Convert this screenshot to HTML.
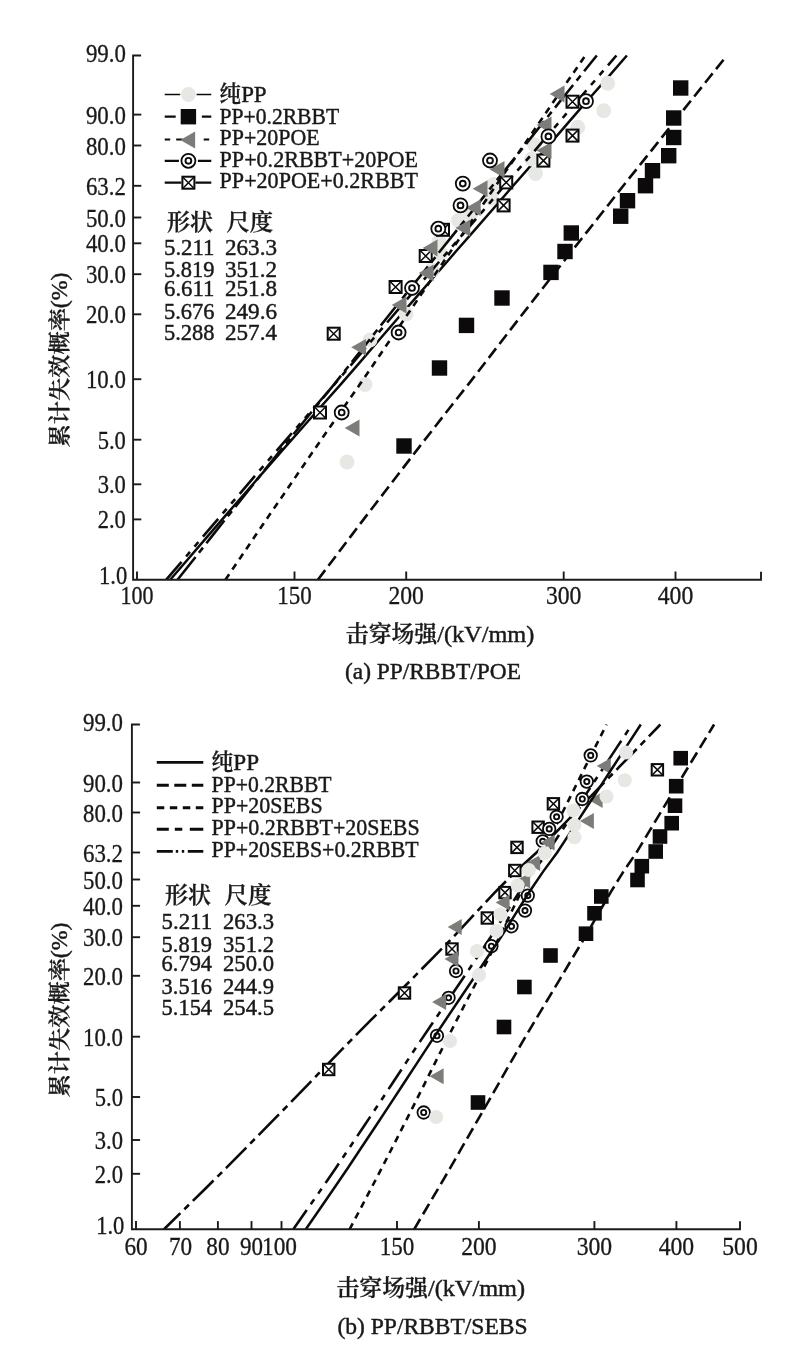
<!DOCTYPE html>
<html lang="zh">
<head>
<meta charset="utf-8">
<title>Weibull 击穿场强</title>
<style>
html,body{margin:0;padding:0;background:#fff;}
body{width:800px;height:1371px;overflow:hidden;}
svg{display:block;}
svg text{font-family:"Liberation Serif", "Noto Serif CJK SC", serif;fill:#1a1818;stroke:#1a1818;stroke-width:0.45px;font-weight:500;}
svg text.tk{stroke-width:0.3px;}
svg tspan.cj{font-weight:600;stroke-width:0.3px;}
</style>
</head>
<body>
<svg width="800" height="1371" viewBox="0 0 800 1371">
<rect width="800" height="1371" fill="#ffffff"/>
<g id="plotA">
<path d="M170.2 579.7 L189.2 557.7 L208.2 535.6 L227.2 513.6 L246.3 491.8 L265.3 469.9 L284.3 448.1 L303.4 426.5 L322.4 405.0 L341.4 383.6 L360.5 361.6 L379.5 339.5 L398.5 317.5 L417.6 295.6 L436.6 273.8 L455.6 251.8 L474.6 230.1 L493.7 208.3 L512.7 186.2 L531.7 164.6 L550.8 142.9 L569.8 120.9 L588.8 99.0 L607.9 77.3 L626.9 55.5" fill="none" stroke="#0c0a0a" stroke-width="2.5"/>
<circle cx="347.0" cy="462.0" r="7.40" fill="#e6e8e3"/>
<circle cx="365.0" cy="384.5" r="7.40" fill="#e6e8e3"/>
<circle cx="370.0" cy="340.0" r="7.40" fill="#e6e8e3"/>
<circle cx="406.0" cy="314.0" r="7.40" fill="#e6e8e3"/>
<circle cx="432.0" cy="270.0" r="7.40" fill="#e6e8e3"/>
<circle cx="440.5" cy="253.5" r="7.40" fill="#e6e8e3"/>
<circle cx="439.0" cy="241.5" r="7.40" fill="#e6e8e3"/>
<circle cx="458.5" cy="220.5" r="7.40" fill="#e6e8e3"/>
<circle cx="470.5" cy="214.5" r="7.40" fill="#e6e8e3"/>
<circle cx="491.5" cy="198.0" r="7.40" fill="#e6e8e3"/>
<circle cx="493.7" cy="184.5" r="7.40" fill="#e6e8e3"/>
<circle cx="535.6" cy="173.5" r="7.40" fill="#e6e8e3"/>
<circle cx="531.5" cy="159.0" r="7.40" fill="#e6e8e3"/>
<circle cx="534.4" cy="144.6" r="7.40" fill="#e6e8e3"/>
<circle cx="577.8" cy="127.2" r="7.40" fill="#e6e8e3"/>
<circle cx="603.7" cy="110.7" r="7.40" fill="#e6e8e3"/>
<circle cx="607.7" cy="83.2" r="7.40" fill="#e6e8e3"/>
<path d="M317.9 579.7 L334.6 557.7 L351.3 535.6 L368.0 513.6 L384.8 491.8 L401.6 469.9 L418.4 448.1 L435.2 426.5 L452.0 405.0 L468.9 383.6 L485.9 361.6 L502.9 339.5 L519.9 317.5 L536.9 295.6 L554.0 273.8 L571.2 251.8 L588.4 230.1 L605.6 208.3 L622.9 186.2 L640.2 164.6 L657.5 142.9 L674.8 120.9 L692.2 99.0 L709.5 77.3 L726.9 55.5" fill="none" stroke="#0c0a0a" stroke-width="2.6" stroke-dasharray="12 5.5"/>
<path d="M166.3 579.7 L185.1 557.7 L203.8 535.6 L222.6 513.6 L241.4 491.8 L260.1 469.9 L278.9 448.1 L297.6 426.5 L316.4 405.0 L335.1 383.6 L353.9 361.6 L372.6 339.5 L391.4 317.5 L410.1 295.6 L428.9 273.8 L447.6 251.8 L466.4 230.1 L485.2 208.3 L503.9 186.2 L522.7 164.6 L541.4 142.9 L560.2 120.9 L578.9 99.0 L597.7 77.3 L616.4 55.5" fill="none" stroke="#0c0a0a" stroke-width="2.6" stroke-dasharray="23.5 7 6 7 6 7"/>
<path d="M225.4 579.7 L240.4 557.7 L255.4 535.6 L270.4 513.6 L285.4 491.8 L300.4 469.9 L315.4 448.1 L330.4 426.5 L345.4 405.0 L360.4 383.6 L375.4 361.6 L390.4 339.5 L405.4 317.5 L420.4 295.6 L435.4 273.8 L450.4 251.8 L465.4 230.1 L480.4 208.3 L495.4 186.2 L510.4 164.6 L525.4 142.9 L540.4 120.9 L555.4 99.0 L570.4 77.3 L585.4 55.5" fill="none" stroke="#0c0a0a" stroke-width="2.6" stroke-dasharray="6.7 5.6"/>
<path d="M177.5 579.7 L195.0 557.7 L212.4 535.6 L229.9 513.6 L247.4 491.8 L264.8 469.9 L282.3 448.1 L299.8 426.5 L317.3 405.0 L334.7 383.6 L352.2 361.6 L369.7 339.5 L387.1 317.5 L404.6 295.6 L422.1 273.8 L439.6 251.8 L457.0 230.1 L474.5 208.3 L492.0 186.2 L509.4 164.6 L526.9 142.9 L544.4 120.9 L561.9 99.0 L579.3 77.3 L596.8 55.5" fill="none" stroke="#0c0a0a" stroke-width="2.6" stroke-dasharray="29 5.5 6.5 5.5"/>
<rect x="396.3" y="438.3" width="15.4" height="15.4" fill="#0c0a0a"/>
<rect x="431.8" y="360.3" width="15.4" height="15.4" fill="#0c0a0a"/>
<rect x="458.8" y="317.7" width="15.4" height="15.4" fill="#0c0a0a"/>
<rect x="494.3" y="290.3" width="15.4" height="15.4" fill="#0c0a0a"/>
<rect x="543.3" y="264.7" width="15.4" height="15.4" fill="#0c0a0a"/>
<rect x="557.3" y="243.8" width="15.4" height="15.4" fill="#0c0a0a"/>
<rect x="563.6" y="225.3" width="15.4" height="15.4" fill="#0c0a0a"/>
<rect x="613.0" y="208.5" width="15.4" height="15.4" fill="#0c0a0a"/>
<rect x="619.8" y="193.0" width="15.4" height="15.4" fill="#0c0a0a"/>
<rect x="637.8" y="178.0" width="15.4" height="15.4" fill="#0c0a0a"/>
<rect x="644.8" y="163.0" width="15.4" height="15.4" fill="#0c0a0a"/>
<rect x="661.0" y="148.0" width="15.4" height="15.4" fill="#0c0a0a"/>
<rect x="666.0" y="129.8" width="15.4" height="15.4" fill="#0c0a0a"/>
<rect x="666.0" y="110.3" width="15.4" height="15.4" fill="#0c0a0a"/>
<rect x="673.0" y="80.3" width="15.4" height="15.4" fill="#0c0a0a"/>
<rect x="314.0" y="406.5" width="12.0" height="12.0" fill="#fff" stroke="#0c0a0a" stroke-width="2"/>
<path d="M314.0 406.5 L326.0 418.5 M326.0 406.5 L314.0 418.5" stroke="#0c0a0a" stroke-width="1.5" fill="none"/>
<rect x="327.7" y="327.7" width="12.0" height="12.0" fill="#fff" stroke="#0c0a0a" stroke-width="2"/>
<path d="M327.7 327.7 L339.7 339.7 M339.7 327.7 L327.7 339.7" stroke="#0c0a0a" stroke-width="1.5" fill="none"/>
<rect x="389.6" y="281.0" width="12.0" height="12.0" fill="#fff" stroke="#0c0a0a" stroke-width="2"/>
<path d="M389.6 281.0 L401.6 293.0 M401.6 281.0 L389.6 293.0" stroke="#0c0a0a" stroke-width="1.5" fill="none"/>
<rect x="419.7" y="250.0" width="12.0" height="12.0" fill="#fff" stroke="#0c0a0a" stroke-width="2"/>
<path d="M419.7 250.0 L431.7 262.0 M431.7 250.0 L419.7 262.0" stroke="#0c0a0a" stroke-width="1.5" fill="none"/>
<rect x="437.0" y="223.8" width="12.0" height="12.0" fill="#fff" stroke="#0c0a0a" stroke-width="2"/>
<path d="M437.0 223.8 L449.0 235.8 M449.0 223.8 L437.0 235.8" stroke="#0c0a0a" stroke-width="1.5" fill="none"/>
<rect x="497.6" y="199.4" width="12.0" height="12.0" fill="#fff" stroke="#0c0a0a" stroke-width="2"/>
<path d="M497.6 199.4 L509.6 211.4 M509.6 199.4 L497.6 211.4" stroke="#0c0a0a" stroke-width="1.5" fill="none"/>
<rect x="500.2" y="176.4" width="12.0" height="12.0" fill="#fff" stroke="#0c0a0a" stroke-width="2"/>
<path d="M500.2 176.4 L512.2 188.4 M512.2 176.4 L500.2 188.4" stroke="#0c0a0a" stroke-width="1.5" fill="none"/>
<rect x="537.4" y="154.6" width="12.0" height="12.0" fill="#fff" stroke="#0c0a0a" stroke-width="2"/>
<path d="M537.4 154.6 L549.4 166.6 M549.4 154.6 L537.4 166.6" stroke="#0c0a0a" stroke-width="1.5" fill="none"/>
<rect x="566.5" y="129.6" width="12.0" height="12.0" fill="#fff" stroke="#0c0a0a" stroke-width="2"/>
<path d="M566.5 129.6 L578.5 141.6 M578.5 129.6 L566.5 141.6" stroke="#0c0a0a" stroke-width="1.5" fill="none"/>
<rect x="566.5" y="95.7" width="12.0" height="12.0" fill="#fff" stroke="#0c0a0a" stroke-width="2"/>
<path d="M566.5 95.7 L578.5 107.7 M578.5 95.7 L566.5 107.7" stroke="#0c0a0a" stroke-width="1.5" fill="none"/>
<path d="M344.7 428.0 L359.5 419.6 L359.5 436.4 Z" fill="#7c7c79"/>
<path d="M351.2 347.3 L366.0 338.9 L366.0 355.7 Z" fill="#7c7c79"/>
<path d="M391.7 305.0 L406.5 296.6 L406.5 313.4 Z" fill="#7c7c79"/>
<path d="M418.7 273.0 L433.5 264.6 L433.5 281.4 Z" fill="#7c7c79"/>
<path d="M422.7 248.0 L437.5 239.6 L437.5 256.4 Z" fill="#7c7c79"/>
<path d="M455.4 228.0 L470.2 219.6 L470.2 236.4 Z" fill="#7c7c79"/>
<path d="M465.9 207.7 L480.7 199.3 L480.7 216.1 Z" fill="#7c7c79"/>
<path d="M472.7 188.7 L487.5 180.3 L487.5 197.1 Z" fill="#7c7c79"/>
<path d="M489.7 169.5 L504.5 161.1 L504.5 177.9 Z" fill="#7c7c79"/>
<path d="M536.7 150.5 L551.5 142.1 L551.5 158.9 Z" fill="#7c7c79"/>
<path d="M536.7 125.0 L551.5 116.6 L551.5 133.4 Z" fill="#7c7c79"/>
<path d="M549.7 94.0 L564.5 85.6 L564.5 102.4 Z" fill="#7c7c79"/>
<circle cx="341.7" cy="412.5" r="7.00" fill="#fff" stroke="#0c0a0a" stroke-width="1.8"/>
<circle cx="341.7" cy="412.5" r="2.90" fill="#fff" stroke="#0c0a0a" stroke-width="1.9"/>
<circle cx="398.6" cy="332.5" r="7.00" fill="#fff" stroke="#0c0a0a" stroke-width="1.8"/>
<circle cx="398.6" cy="332.5" r="2.90" fill="#fff" stroke="#0c0a0a" stroke-width="1.9"/>
<circle cx="412.0" cy="288.0" r="7.00" fill="#fff" stroke="#0c0a0a" stroke-width="1.8"/>
<circle cx="412.0" cy="288.0" r="2.90" fill="#fff" stroke="#0c0a0a" stroke-width="1.9"/>
<circle cx="438.3" cy="228.7" r="7.00" fill="#fff" stroke="#0c0a0a" stroke-width="1.8"/>
<circle cx="438.3" cy="228.7" r="2.90" fill="#fff" stroke="#0c0a0a" stroke-width="1.9"/>
<circle cx="460.5" cy="205.4" r="7.00" fill="#fff" stroke="#0c0a0a" stroke-width="1.8"/>
<circle cx="460.5" cy="205.4" r="2.90" fill="#fff" stroke="#0c0a0a" stroke-width="1.9"/>
<circle cx="462.8" cy="183.6" r="7.00" fill="#fff" stroke="#0c0a0a" stroke-width="1.8"/>
<circle cx="462.8" cy="183.6" r="2.90" fill="#fff" stroke="#0c0a0a" stroke-width="1.9"/>
<circle cx="490.0" cy="160.5" r="7.00" fill="#fff" stroke="#0c0a0a" stroke-width="1.8"/>
<circle cx="490.0" cy="160.5" r="2.90" fill="#fff" stroke="#0c0a0a" stroke-width="1.9"/>
<circle cx="548.4" cy="136.4" r="7.00" fill="#fff" stroke="#0c0a0a" stroke-width="1.8"/>
<circle cx="548.4" cy="136.4" r="2.90" fill="#fff" stroke="#0c0a0a" stroke-width="1.9"/>
<circle cx="586.0" cy="101.2" r="7.00" fill="#fff" stroke="#0c0a0a" stroke-width="1.8"/>
<circle cx="586.0" cy="101.2" r="2.90" fill="#fff" stroke="#0c0a0a" stroke-width="1.9"/>
<path d="M141.1 55.5 H133.1 V579.7 H761.0 V571.7" stroke="#1c1a1a" stroke-width="1.9" fill="none"/>
<text x="125.9" y="62.1" font-size="24.2" text-anchor="end" textLength="40.0" lengthAdjust="spacingAndGlyphs" class="tk">99.0</text>
<path d="M133.1 114.6 h8.2" stroke="#1c1a1a" stroke-width="1.9" fill="none"/>
<text x="125.9" y="123.6" font-size="24.2" text-anchor="end" textLength="40.0" lengthAdjust="spacingAndGlyphs" class="tk">90.0</text>
<path d="M133.1 145.5 h8.2" stroke="#1c1a1a" stroke-width="1.9" fill="none"/>
<text x="125.9" y="154.5" font-size="24.2" text-anchor="end" textLength="40.0" lengthAdjust="spacingAndGlyphs" class="tk">80.0</text>
<path d="M133.1 185.8 h8.2" stroke="#1c1a1a" stroke-width="1.9" fill="none"/>
<text x="125.9" y="194.8" font-size="24.2" text-anchor="end" textLength="40.0" lengthAdjust="spacingAndGlyphs" class="tk">63.2</text>
<path d="M133.1 217.5 h8.2" stroke="#1c1a1a" stroke-width="1.9" fill="none"/>
<text x="125.9" y="226.5" font-size="24.2" text-anchor="end" textLength="40.0" lengthAdjust="spacingAndGlyphs" class="tk">50.0</text>
<path d="M133.1 243.3 h8.2" stroke="#1c1a1a" stroke-width="1.9" fill="none"/>
<text x="125.9" y="252.3" font-size="24.2" text-anchor="end" textLength="40.0" lengthAdjust="spacingAndGlyphs" class="tk">40.0</text>
<path d="M133.1 274.2 h8.2" stroke="#1c1a1a" stroke-width="1.9" fill="none"/>
<text x="125.9" y="283.2" font-size="24.2" text-anchor="end" textLength="40.0" lengthAdjust="spacingAndGlyphs" class="tk">30.0</text>
<path d="M133.1 314.3 h8.2" stroke="#1c1a1a" stroke-width="1.9" fill="none"/>
<text x="125.9" y="323.3" font-size="24.2" text-anchor="end" textLength="40.0" lengthAdjust="spacingAndGlyphs" class="tk">20.0</text>
<path d="M133.1 379.2 h8.2" stroke="#1c1a1a" stroke-width="1.9" fill="none"/>
<text x="125.9" y="388.2" font-size="24.2" text-anchor="end" textLength="40.0" lengthAdjust="spacingAndGlyphs" class="tk">10.0</text>
<path d="M133.1 439.7 h8.2" stroke="#1c1a1a" stroke-width="1.9" fill="none"/>
<text x="125.9" y="448.7" font-size="24.2" text-anchor="end" textLength="28.2" lengthAdjust="spacingAndGlyphs" class="tk">5.0</text>
<path d="M133.1 484.3 h8.2" stroke="#1c1a1a" stroke-width="1.9" fill="none"/>
<text x="125.9" y="493.3" font-size="24.2" text-anchor="end" textLength="28.2" lengthAdjust="spacingAndGlyphs" class="tk">3.0</text>
<path d="M133.1 519.4 h8.2" stroke="#1c1a1a" stroke-width="1.9" fill="none"/>
<text x="125.9" y="528.4" font-size="24.2" text-anchor="end" textLength="28.2" lengthAdjust="spacingAndGlyphs" class="tk">2.0</text>
<text x="127.3" y="584.0" font-size="24.2" text-anchor="end" textLength="28.2" lengthAdjust="spacingAndGlyphs" class="tk">1.0</text>
<path d="M137.0 579.7 v-8.2" stroke="#1c1a1a" stroke-width="1.9" fill="none"/>
<path d="M294.5 579.7 v-8.2" stroke="#1c1a1a" stroke-width="1.9" fill="none"/>
<path d="M406.2 579.7 v-8.2" stroke="#1c1a1a" stroke-width="1.9" fill="none"/>
<path d="M563.7 579.7 v-8.2" stroke="#1c1a1a" stroke-width="1.9" fill="none"/>
<path d="M675.5 579.7 v-8.2" stroke="#1c1a1a" stroke-width="1.9" fill="none"/>
<text x="137.0" y="604.2" font-size="24.2" text-anchor="middle" textLength="33.0" lengthAdjust="spacingAndGlyphs" class="tk">100</text>
<text x="294.5" y="604.2" font-size="24.2" text-anchor="middle" textLength="34.5" lengthAdjust="spacingAndGlyphs" class="tk">150</text>
<text x="406.2" y="604.2" font-size="24.2" text-anchor="middle" textLength="35.5" lengthAdjust="spacingAndGlyphs" class="tk">200</text>
<text x="563.7" y="604.2" font-size="24.2" text-anchor="middle" textLength="35.5" lengthAdjust="spacingAndGlyphs" class="tk">300</text>
<text x="675.5" y="604.2" font-size="24.2" text-anchor="middle" textLength="35.5" lengthAdjust="spacingAndGlyphs" class="tk">400</text>
<path d="M164.7 94.5 H180.20000000000002 M196.6 94.5 H211.3" stroke="#0c0a0a" stroke-width="1.4"/>
<circle cx="188.4" cy="94.5" r="7.40" fill="#e6e8e3"/>
<path d="M164.7 116.7 h11 M201.9 116.7 H211.3" stroke="#0c0a0a" stroke-width="2.2"/>
<rect x="180.7" y="109.0" width="15.4" height="15.4" fill="#0c0a0a"/>
<path d="M164.7 139.5 h5.5 M176.2 139.5 h6.5 M203.7 139.5 h5.5" stroke="#0c0a0a" stroke-width="2.2"/>
<path d="M180.3 140.0 L195.1 131.6 L195.1 148.4 Z" fill="#7c7c79"/>
<path d="M164.7 160.8 H178.9 M197.9 160.8 H211.3" stroke="#0c0a0a" stroke-width="2.2"/>
<circle cx="188.4" cy="160.8" r="7.00" fill="#fff" stroke="#0c0a0a" stroke-width="1.8"/>
<circle cx="188.4" cy="160.8" r="2.90" fill="#fff" stroke="#0c0a0a" stroke-width="1.9"/>
<path d="M164.7 182.7 H181.4 M195.4 182.7 H211.3" stroke="#0c0a0a" stroke-width="2.2"/>
<rect x="182.4" y="176.7" width="12.0" height="12.0" fill="#fff" stroke="#0c0a0a" stroke-width="2"/>
<path d="M182.4 176.7 L194.4 188.7 M194.4 176.7 L182.4 188.7" stroke="#0c0a0a" stroke-width="1.5" fill="none"/>
<text x="219.6" y="102.2" font-size="24.0" text-anchor="start" textLength="47.0" lengthAdjust="spacingAndGlyphs"><tspan class="cj" font-size="22.6">纯</tspan>PP</text>
<text x="219.6" y="123.9" font-size="24.0" text-anchor="start" textLength="119.5" lengthAdjust="spacingAndGlyphs">PP+0.2RBBT</text>
<text x="219.6" y="145.3" font-size="24.0" text-anchor="start" textLength="100.0" lengthAdjust="spacingAndGlyphs">PP+20POE</text>
<text x="219.6" y="167.2" font-size="24.0" text-anchor="start" textLength="198.4" lengthAdjust="spacingAndGlyphs">PP+0.2RBBT+20POE</text>
<text x="219.6" y="188.3" font-size="24.0" text-anchor="start" textLength="198.4" lengthAdjust="spacingAndGlyphs">PP+20POE+0.2RBBT</text>
<text x="167.0" y="229.5" font-size="24.0" text-anchor="start" textLength="46.0" lengthAdjust="spacingAndGlyphs"><tspan class="cj" font-size="22.6">形状</tspan></text>
<text x="226.5" y="229.5" font-size="24.0" text-anchor="start" textLength="46.5" lengthAdjust="spacingAndGlyphs"><tspan class="cj" font-size="22.6">尺度</tspan></text>
<text x="164.0" y="255.0" font-size="23.0" text-anchor="start" textLength="50.5" lengthAdjust="spacingAndGlyphs">5.211</text>
<text x="225.0" y="255.0" font-size="23.0" text-anchor="start" textLength="52.0" lengthAdjust="spacingAndGlyphs">263.3</text>
<text x="164.0" y="277.0" font-size="23.0" text-anchor="start" textLength="50.5" lengthAdjust="spacingAndGlyphs">5.819</text>
<text x="225.0" y="277.0" font-size="23.0" text-anchor="start" textLength="52.0" lengthAdjust="spacingAndGlyphs">351.2</text>
<text x="164.0" y="295.6" font-size="23.0" text-anchor="start" textLength="50.5" lengthAdjust="spacingAndGlyphs">6.611</text>
<text x="225.0" y="295.6" font-size="23.0" text-anchor="start" textLength="52.0" lengthAdjust="spacingAndGlyphs">251.8</text>
<text x="164.0" y="319.0" font-size="23.0" text-anchor="start" textLength="50.5" lengthAdjust="spacingAndGlyphs">5.676</text>
<text x="225.0" y="319.0" font-size="23.0" text-anchor="start" textLength="52.0" lengthAdjust="spacingAndGlyphs">249.6</text>
<text x="164.0" y="340.0" font-size="23.0" text-anchor="start" textLength="50.5" lengthAdjust="spacingAndGlyphs">5.288</text>
<text x="225.0" y="340.0" font-size="23.0" text-anchor="start" textLength="52.0" lengthAdjust="spacingAndGlyphs">257.4</text>
<text x="0.0" y="0.0" font-size="22.5" text-anchor="middle" textLength="175.0" lengthAdjust="spacingAndGlyphs" transform="translate(66.8 360) rotate(-90)"><tspan class="cj" font-size="22.0">累计失效概率</tspan>(%)</text>
<text x="345.8" y="642.0" font-size="24.0" text-anchor="start" textLength="188.5" lengthAdjust="spacingAndGlyphs"><tspan class="cj" font-size="22.6">击穿场强</tspan>/(kV/mm)</text>
<text x="345.0" y="679.0" font-size="24.0" text-anchor="start" textLength="176.0" lengthAdjust="spacingAndGlyphs">(a) PP/RBBT/POE</text>
</g>
<g id="plotB">
<path d="M293.3 1229.3 L307.5 1209.0 L321.6 1188.7 L335.7 1168.2 L349.8 1147.2 L363.9 1126.2 L378.0 1105.1 L392.1 1083.8 L406.2 1062.4 L420.3 1041.1 L434.5 1020.2 L448.6 999.5 L462.7 978.8 L476.8 957.8 L490.9 936.8 L505.0 914.4 L519.1 892.3 L533.2 871.6 L547.3 852.8 L561.4 831.4 L575.6 810.0 L589.7 788.6 L603.8 767.2 L617.9 745.9 L632.0 724.5" fill="none" stroke="#0c0a0a" stroke-width="2.6" stroke-dasharray="23.5 7 6 7 6 7"/>
<path d="M164.0 1229.3 L184.6 1209.0 L205.3 1188.7 L226.0 1168.2 L246.7 1147.2 L267.4 1126.2 L288.1 1105.1 L308.7 1083.8 L329.4 1062.4 L350.1 1041.1 L370.8 1020.2 L391.5 999.5 L412.2 978.8 L432.8 957.8 L453.5 936.8 L474.2 914.4 L494.9 892.3 L515.6 871.6 L536.3 852.8 L556.9 831.4 L577.6 810.0 L598.3 788.6 L619.0 767.2 L639.7 745.9 L660.4 724.5" fill="none" stroke="#0c0a0a" stroke-width="2.6" stroke-dasharray="29 5.5 6.5 5.5" stroke-dashoffset="6"/>
<path d="M349.6 1229.3 L360.3 1209.0 L371.0 1188.7 L381.7 1168.2 L392.5 1147.2 L403.2 1126.2 L413.9 1105.1 L424.6 1083.8 L435.3 1062.4 L446.0 1041.1 L456.7 1020.2 L467.4 999.5 L478.1 978.8 L488.8 957.8 L499.5 936.8 L510.2 914.4 L520.9 892.3 L531.6 871.6 L542.3 852.8 L553.0 831.4 L563.7 810.0 L574.4 788.6 L585.1 767.2 L595.8 745.9 L606.5 724.5" fill="none" stroke="#0c0a0a" stroke-width="2.6" stroke-dasharray="6.7 5.6"/>
<path d="M414.1 1229.3 L426.1 1209.0 L438.1 1188.7 L450.1 1168.2 L462.1 1147.2 L474.2 1126.2 L486.3 1105.1 L498.5 1083.8 L510.7 1062.4 L522.9 1041.1 L535.3 1020.2 L547.7 999.5 L560.1 978.8 L572.6 957.8 L585.2 936.8 L597.9 914.4 L610.6 892.3 L623.4 871.6 L636.3 852.8 L649.2 831.4 L662.1 810.0 L675.1 788.6 L688.1 767.2 L701.1 745.9 L714.1 724.5" fill="none" stroke="#0c0a0a" stroke-width="2.6" stroke-dasharray="12 5.5"/>
<rect x="651.7" y="764.1" width="11.4" height="11.4" fill="#fff" stroke="#0c0a0a" stroke-width="2"/>
<path d="M651.7 764.1 L663.1 775.5 M663.1 764.1 L651.7 775.5" stroke="#0c0a0a" stroke-width="1.5" fill="none"/>
<rect x="547.7" y="798.1" width="11.4" height="11.4" fill="#fff" stroke="#0c0a0a" stroke-width="2"/>
<path d="M547.7 798.1 L559.1 809.5 M559.1 798.1 L547.7 809.5" stroke="#0c0a0a" stroke-width="1.5" fill="none"/>
<rect x="532.4" y="821.5" width="11.4" height="11.4" fill="#fff" stroke="#0c0a0a" stroke-width="2"/>
<path d="M532.4 821.5 L543.8 832.9 M543.8 821.5 L532.4 832.9" stroke="#0c0a0a" stroke-width="1.5" fill="none"/>
<rect x="511.3" y="841.7" width="11.4" height="11.4" fill="#fff" stroke="#0c0a0a" stroke-width="2"/>
<path d="M511.3 841.7 L522.7 853.1 M522.7 841.7 L511.3 853.1" stroke="#0c0a0a" stroke-width="1.5" fill="none"/>
<rect x="509.1" y="864.8" width="11.4" height="11.4" fill="#fff" stroke="#0c0a0a" stroke-width="2"/>
<path d="M509.1 864.8 L520.5 876.2 M520.5 864.8 L509.1 876.2" stroke="#0c0a0a" stroke-width="1.5" fill="none"/>
<rect x="499.3" y="886.9" width="11.4" height="11.4" fill="#fff" stroke="#0c0a0a" stroke-width="2"/>
<path d="M499.3 886.9 L510.7 898.3 M510.7 886.9 L499.3 898.3" stroke="#0c0a0a" stroke-width="1.5" fill="none"/>
<rect x="481.6" y="912.3" width="11.4" height="11.4" fill="#fff" stroke="#0c0a0a" stroke-width="2"/>
<path d="M481.6 912.3 L493.0 923.7 M493.0 912.3 L481.6 923.7" stroke="#0c0a0a" stroke-width="1.5" fill="none"/>
<rect x="446.3" y="943.3" width="11.4" height="11.4" fill="#fff" stroke="#0c0a0a" stroke-width="2"/>
<path d="M446.3 943.3 L457.7 954.7 M457.7 943.3 L446.3 954.7" stroke="#0c0a0a" stroke-width="1.5" fill="none"/>
<rect x="398.8" y="987.3" width="11.4" height="11.4" fill="#fff" stroke="#0c0a0a" stroke-width="2"/>
<path d="M398.8 987.3 L410.2 998.7 M410.2 987.3 L398.8 998.7" stroke="#0c0a0a" stroke-width="1.5" fill="none"/>
<rect x="323.0" y="1063.8" width="11.4" height="11.4" fill="#fff" stroke="#0c0a0a" stroke-width="2"/>
<path d="M323.0 1063.8 L334.4 1075.2 M334.4 1063.8 L323.0 1075.2" stroke="#0c0a0a" stroke-width="1.5" fill="none"/>
<circle cx="590.7" cy="755.4" r="6.23" fill="#fff" stroke="#0c0a0a" stroke-width="1.8"/>
<circle cx="590.7" cy="755.4" r="2.58" fill="#fff" stroke="#0c0a0a" stroke-width="1.9"/>
<circle cx="586.8" cy="781.6" r="6.23" fill="#fff" stroke="#0c0a0a" stroke-width="1.8"/>
<circle cx="586.8" cy="781.6" r="2.58" fill="#fff" stroke="#0c0a0a" stroke-width="1.9"/>
<circle cx="582.3" cy="799.0" r="6.23" fill="#fff" stroke="#0c0a0a" stroke-width="1.8"/>
<circle cx="582.3" cy="799.0" r="2.58" fill="#fff" stroke="#0c0a0a" stroke-width="1.9"/>
<circle cx="556.6" cy="816.8" r="6.23" fill="#fff" stroke="#0c0a0a" stroke-width="1.8"/>
<circle cx="556.6" cy="816.8" r="2.58" fill="#fff" stroke="#0c0a0a" stroke-width="1.9"/>
<circle cx="549.2" cy="828.9" r="6.23" fill="#fff" stroke="#0c0a0a" stroke-width="1.8"/>
<circle cx="549.2" cy="828.9" r="2.58" fill="#fff" stroke="#0c0a0a" stroke-width="1.9"/>
<circle cx="542.7" cy="841.3" r="6.23" fill="#fff" stroke="#0c0a0a" stroke-width="1.8"/>
<circle cx="542.7" cy="841.3" r="2.58" fill="#fff" stroke="#0c0a0a" stroke-width="1.9"/>
<circle cx="527.8" cy="895.6" r="6.23" fill="#fff" stroke="#0c0a0a" stroke-width="1.8"/>
<circle cx="527.8" cy="895.6" r="2.58" fill="#fff" stroke="#0c0a0a" stroke-width="1.9"/>
<circle cx="525.0" cy="910.6" r="6.23" fill="#fff" stroke="#0c0a0a" stroke-width="1.8"/>
<circle cx="525.0" cy="910.6" r="2.58" fill="#fff" stroke="#0c0a0a" stroke-width="1.9"/>
<circle cx="511.5" cy="926.3" r="6.23" fill="#fff" stroke="#0c0a0a" stroke-width="1.8"/>
<circle cx="511.5" cy="926.3" r="2.58" fill="#fff" stroke="#0c0a0a" stroke-width="1.9"/>
<circle cx="491.4" cy="946.2" r="6.23" fill="#fff" stroke="#0c0a0a" stroke-width="1.8"/>
<circle cx="491.4" cy="946.2" r="2.58" fill="#fff" stroke="#0c0a0a" stroke-width="1.9"/>
<circle cx="456.0" cy="971.0" r="6.23" fill="#fff" stroke="#0c0a0a" stroke-width="1.8"/>
<circle cx="456.0" cy="971.0" r="2.58" fill="#fff" stroke="#0c0a0a" stroke-width="1.9"/>
<circle cx="448.6" cy="997.8" r="6.23" fill="#fff" stroke="#0c0a0a" stroke-width="1.8"/>
<circle cx="448.6" cy="997.8" r="2.58" fill="#fff" stroke="#0c0a0a" stroke-width="1.9"/>
<circle cx="437.0" cy="1035.8" r="6.23" fill="#fff" stroke="#0c0a0a" stroke-width="1.8"/>
<circle cx="437.0" cy="1035.8" r="2.58" fill="#fff" stroke="#0c0a0a" stroke-width="1.9"/>
<circle cx="423.7" cy="1112.5" r="6.23" fill="#fff" stroke="#0c0a0a" stroke-width="1.8"/>
<circle cx="423.7" cy="1112.5" r="2.58" fill="#fff" stroke="#0c0a0a" stroke-width="1.9"/>
<path d="M596.8 766.0 L610.8 758.0 L610.8 774.0 Z" fill="#7c7c79"/>
<path d="M588.6 800.0 L602.6 792.0 L602.6 808.0 Z" fill="#7c7c79"/>
<path d="M579.9 821.0 L593.9 813.0 L593.9 829.0 Z" fill="#7c7c79"/>
<path d="M540.6 842.5 L554.6 834.5 L554.6 850.5 Z" fill="#7c7c79"/>
<path d="M526.1 863.0 L540.1 855.0 L540.1 871.0 Z" fill="#7c7c79"/>
<path d="M516.1 880.5 L530.1 872.5 L530.1 888.5 Z" fill="#7c7c79"/>
<path d="M495.6 902.5 L509.6 894.5 L509.6 910.5 Z" fill="#7c7c79"/>
<path d="M447.7 927.0 L461.7 919.0 L461.7 935.0 Z" fill="#7c7c79"/>
<path d="M444.5 959.0 L458.5 951.0 L458.5 967.0 Z" fill="#7c7c79"/>
<path d="M432.1 1002.0 L446.1 994.0 L446.1 1010.0 Z" fill="#7c7c79"/>
<path d="M429.6 1076.2 L443.6 1068.2 L443.6 1084.2 Z" fill="#7c7c79"/>
<rect x="673.4" y="750.9" width="14.6" height="14.6" fill="#0c0a0a"/>
<rect x="668.9" y="778.9" width="14.6" height="14.6" fill="#0c0a0a"/>
<rect x="667.7" y="798.4" width="14.6" height="14.6" fill="#0c0a0a"/>
<rect x="664.4" y="815.9" width="14.6" height="14.6" fill="#0c0a0a"/>
<rect x="652.7" y="829.2" width="14.6" height="14.6" fill="#0c0a0a"/>
<rect x="648.4" y="844.2" width="14.6" height="14.6" fill="#0c0a0a"/>
<rect x="634.5" y="858.9" width="14.6" height="14.6" fill="#0c0a0a"/>
<rect x="630.2" y="872.7" width="14.6" height="14.6" fill="#0c0a0a"/>
<rect x="594.0" y="889.2" width="14.6" height="14.6" fill="#0c0a0a"/>
<rect x="587.2" y="906.0" width="14.6" height="14.6" fill="#0c0a0a"/>
<rect x="578.7" y="926.4" width="14.6" height="14.6" fill="#0c0a0a"/>
<rect x="543.2" y="948.2" width="14.6" height="14.6" fill="#0c0a0a"/>
<rect x="517.1" y="979.7" width="14.6" height="14.6" fill="#0c0a0a"/>
<rect x="496.7" y="1019.7" width="14.6" height="14.6" fill="#0c0a0a"/>
<rect x="470.7" y="1095.2" width="14.6" height="14.6" fill="#0c0a0a"/>
<path d="M305.8 1229.3 L319.8 1209.0 L333.7 1188.7 L347.7 1168.2 L361.6 1147.2 L375.6 1126.2 L389.5 1105.1 L403.5 1083.8 L417.5 1062.4 L431.4 1041.1 L445.4 1020.2 L459.3 999.5 L473.3 978.8 L487.2 957.8 L501.2 936.8 L515.2 914.4 L529.1 892.3 L543.1 871.6 L557.0 852.8 L571.0 831.4 L584.9 810.0 L598.9 788.6 L612.8 767.2 L626.8 745.9 L640.8 724.5" fill="none" stroke="#0c0a0a" stroke-width="2.5"/>
<circle cx="626.0" cy="752.5" r="7.03" fill="#e6e8e3"/>
<circle cx="624.8" cy="780.2" r="7.03" fill="#e6e8e3"/>
<circle cx="606.5" cy="796.5" r="7.03" fill="#e6e8e3"/>
<circle cx="573.5" cy="810.5" r="7.03" fill="#e6e8e3"/>
<circle cx="574.5" cy="825.0" r="7.03" fill="#e6e8e3"/>
<circle cx="574.5" cy="837.2" r="7.03" fill="#e6e8e3"/>
<circle cx="544.8" cy="853.0" r="7.03" fill="#e6e8e3"/>
<circle cx="528.8" cy="870.0" r="7.03" fill="#e6e8e3"/>
<circle cx="517.7" cy="885.5" r="7.03" fill="#e6e8e3"/>
<circle cx="500.5" cy="914.5" r="7.03" fill="#e6e8e3"/>
<circle cx="496.5" cy="931.0" r="7.03" fill="#e6e8e3"/>
<circle cx="477.0" cy="951.0" r="7.03" fill="#e6e8e3"/>
<circle cx="479.0" cy="975.0" r="7.03" fill="#e6e8e3"/>
<circle cx="450.0" cy="1041.0" r="7.03" fill="#e6e8e3"/>
<circle cx="436.2" cy="1117.0" r="7.03" fill="#e6e8e3"/>
<path d="M139.9 724.5 H131.9 V1229.3 H740.0 V1221.3" stroke="#1c1a1a" stroke-width="1.9" fill="none"/>
<text x="123.0" y="731.1" font-size="24.2" text-anchor="end" textLength="40.0" lengthAdjust="spacingAndGlyphs" class="tk">99.0</text>
<path d="M131.9 782.5 h8.2" stroke="#1c1a1a" stroke-width="1.9" fill="none"/>
<text x="123.0" y="791.5" font-size="24.2" text-anchor="end" textLength="40.0" lengthAdjust="spacingAndGlyphs" class="tk">90.0</text>
<path d="M131.9 812.5 h8.2" stroke="#1c1a1a" stroke-width="1.9" fill="none"/>
<text x="123.0" y="821.5" font-size="24.2" text-anchor="end" textLength="40.0" lengthAdjust="spacingAndGlyphs" class="tk">80.0</text>
<path d="M131.9 852.5 h8.2" stroke="#1c1a1a" stroke-width="1.9" fill="none"/>
<text x="123.0" y="861.5" font-size="24.2" text-anchor="end" textLength="40.0" lengthAdjust="spacingAndGlyphs" class="tk">63.2</text>
<path d="M131.9 879.5 h8.2" stroke="#1c1a1a" stroke-width="1.9" fill="none"/>
<text x="123.0" y="888.5" font-size="24.2" text-anchor="end" textLength="40.0" lengthAdjust="spacingAndGlyphs" class="tk">50.0</text>
<path d="M131.9 905.8 h8.2" stroke="#1c1a1a" stroke-width="1.9" fill="none"/>
<text x="123.0" y="914.8" font-size="24.2" text-anchor="end" textLength="40.0" lengthAdjust="spacingAndGlyphs" class="tk">40.0</text>
<path d="M131.9 937.2 h8.2" stroke="#1c1a1a" stroke-width="1.9" fill="none"/>
<text x="123.0" y="946.2" font-size="24.2" text-anchor="end" textLength="40.0" lengthAdjust="spacingAndGlyphs" class="tk">30.0</text>
<path d="M131.9 975.8 h8.2" stroke="#1c1a1a" stroke-width="1.9" fill="none"/>
<text x="123.0" y="984.8" font-size="24.2" text-anchor="end" textLength="40.0" lengthAdjust="spacingAndGlyphs" class="tk">20.0</text>
<path d="M131.9 1036.7 h8.2" stroke="#1c1a1a" stroke-width="1.9" fill="none"/>
<text x="123.0" y="1045.7" font-size="24.2" text-anchor="end" textLength="40.0" lengthAdjust="spacingAndGlyphs" class="tk">10.0</text>
<path d="M131.9 1097.0 h8.2" stroke="#1c1a1a" stroke-width="1.9" fill="none"/>
<text x="123.0" y="1106.0" font-size="24.2" text-anchor="end" textLength="28.2" lengthAdjust="spacingAndGlyphs" class="tk">5.0</text>
<path d="M131.9 1140.0 h8.2" stroke="#1c1a1a" stroke-width="1.9" fill="none"/>
<text x="123.0" y="1149.0" font-size="24.2" text-anchor="end" textLength="28.2" lengthAdjust="spacingAndGlyphs" class="tk">3.0</text>
<path d="M131.9 1173.8 h8.2" stroke="#1c1a1a" stroke-width="1.9" fill="none"/>
<text x="123.0" y="1182.8" font-size="24.2" text-anchor="end" textLength="28.2" lengthAdjust="spacingAndGlyphs" class="tk">2.0</text>
<text x="124.4" y="1233.6" font-size="24.2" text-anchor="end" textLength="28.2" lengthAdjust="spacingAndGlyphs" class="tk">1.0</text>
<path d="M136.0 1229.3 v-8.2" stroke="#1c1a1a" stroke-width="1.9" fill="none"/>
<path d="M179.9 1229.3 v-8.2" stroke="#1c1a1a" stroke-width="1.9" fill="none"/>
<path d="M217.9 1229.3 v-8.2" stroke="#1c1a1a" stroke-width="1.9" fill="none"/>
<path d="M251.5 1229.3 v-8.2" stroke="#1c1a1a" stroke-width="1.9" fill="none"/>
<path d="M281.5 1229.3 v-8.2" stroke="#1c1a1a" stroke-width="1.9" fill="none"/>
<path d="M397.0 1229.3 v-8.2" stroke="#1c1a1a" stroke-width="1.9" fill="none"/>
<path d="M478.9 1229.3 v-8.2" stroke="#1c1a1a" stroke-width="1.9" fill="none"/>
<path d="M594.4 1229.3 v-8.2" stroke="#1c1a1a" stroke-width="1.9" fill="none"/>
<path d="M676.4 1229.3 v-8.2" stroke="#1c1a1a" stroke-width="1.9" fill="none"/>
<text x="136.0" y="1254.5" font-size="24.2" text-anchor="middle" textLength="23.2" lengthAdjust="spacingAndGlyphs" class="tk">60</text>
<text x="180.5" y="1254.5" font-size="24.2" text-anchor="middle" textLength="23.2" lengthAdjust="spacingAndGlyphs" class="tk">70</text>
<text x="217.9" y="1254.5" font-size="24.2" text-anchor="middle" textLength="23.2" lengthAdjust="spacingAndGlyphs" class="tk">80</text>
<text x="251.5" y="1254.5" font-size="24.2" text-anchor="middle" textLength="23.0" lengthAdjust="spacingAndGlyphs" class="tk">90</text>
<text x="279.5" y="1254.5" font-size="24.2" text-anchor="middle" textLength="35.0" lengthAdjust="spacingAndGlyphs" class="tk">100</text>
<text x="397.0" y="1254.5" font-size="24.2" text-anchor="middle" textLength="34.5" lengthAdjust="spacingAndGlyphs" class="tk">150</text>
<text x="478.9" y="1254.5" font-size="24.2" text-anchor="middle" textLength="35.5" lengthAdjust="spacingAndGlyphs" class="tk">200</text>
<text x="594.4" y="1254.5" font-size="24.2" text-anchor="middle" textLength="35.5" lengthAdjust="spacingAndGlyphs" class="tk">300</text>
<text x="676.4" y="1254.5" font-size="24.2" text-anchor="middle" textLength="35.5" lengthAdjust="spacingAndGlyphs" class="tk">400</text>
<text x="740.0" y="1254.5" font-size="24.2" text-anchor="middle" textLength="35.5" lengthAdjust="spacingAndGlyphs" class="tk">500</text>
<path d="M156.8 762.4 H203.3" stroke="#0c0a0a" fill="none" stroke-width="2.6"/>
<text x="211.6" y="769.8" font-size="24.0" text-anchor="start" textLength="47.5" lengthAdjust="spacingAndGlyphs"><tspan class="cj" font-size="22.6">纯</tspan>PP</text>
<path d="M156.8 785.3 H203.3" stroke="#0c0a0a" fill="none" stroke-width="2.9" stroke-dasharray="12 5.5"/>
<text x="211.6" y="792.1" font-size="24.0" text-anchor="start" textLength="120.0" lengthAdjust="spacingAndGlyphs">PP+0.2RBBT</text>
<path d="M156.8 807.8 H203.3" stroke="#0c0a0a" fill="none" stroke-width="2.9" stroke-dasharray="7.5 5.5"/>
<text x="211.6" y="812.7" font-size="24.0" text-anchor="start" textLength="111.0" lengthAdjust="spacingAndGlyphs">PP+20SEBS</text>
<path d="M156.8 829.2 H203.3" stroke="#0c0a0a" fill="none" stroke-width="2.9" stroke-dasharray="12 6 7.5 7.5 13.5 6"/>
<text x="211.6" y="835.2" font-size="24.0" text-anchor="start" textLength="208.0" lengthAdjust="spacingAndGlyphs">PP+0.2RBBT+20SEBS</text>
<path d="M156.8 851.4 H203.3" stroke="#0c0a0a" fill="none" stroke-width="2.9" stroke-dasharray="16 3 2.4 3.6 2.4 3.6 16 3"/>
<text x="211.6" y="856.6" font-size="24.0" text-anchor="start" textLength="207.0" lengthAdjust="spacingAndGlyphs">PP+20SEBS+0.2RBBT</text>
<text x="165.0" y="903.0" font-size="24.0" text-anchor="start" textLength="46.0" lengthAdjust="spacingAndGlyphs"><tspan class="cj" font-size="22.6">形状</tspan></text>
<text x="224.5" y="903.0" font-size="24.0" text-anchor="start" textLength="47.0" lengthAdjust="spacingAndGlyphs"><tspan class="cj" font-size="22.6">尺度</tspan></text>
<text x="161.6" y="929.0" font-size="23.0" text-anchor="start" textLength="50.5" lengthAdjust="spacingAndGlyphs">5.211</text>
<text x="223.0" y="929.0" font-size="23.0" text-anchor="start" textLength="51.0" lengthAdjust="spacingAndGlyphs">263.3</text>
<text x="161.6" y="952.0" font-size="23.0" text-anchor="start" textLength="50.5" lengthAdjust="spacingAndGlyphs">5.819</text>
<text x="223.0" y="952.0" font-size="23.0" text-anchor="start" textLength="51.0" lengthAdjust="spacingAndGlyphs">351.2</text>
<text x="161.6" y="971.0" font-size="23.0" text-anchor="start" textLength="50.5" lengthAdjust="spacingAndGlyphs">6.794</text>
<text x="223.0" y="971.0" font-size="23.0" text-anchor="start" textLength="51.0" lengthAdjust="spacingAndGlyphs">250.0</text>
<text x="161.6" y="994.0" font-size="23.0" text-anchor="start" textLength="50.5" lengthAdjust="spacingAndGlyphs">3.516</text>
<text x="223.0" y="994.0" font-size="23.0" text-anchor="start" textLength="51.0" lengthAdjust="spacingAndGlyphs">244.9</text>
<text x="161.6" y="1014.5" font-size="23.0" text-anchor="start" textLength="50.5" lengthAdjust="spacingAndGlyphs">5.154</text>
<text x="223.0" y="1014.5" font-size="23.0" text-anchor="start" textLength="51.0" lengthAdjust="spacingAndGlyphs">254.5</text>
<text x="0.0" y="0.0" font-size="22.5" text-anchor="middle" textLength="175.0" lengthAdjust="spacingAndGlyphs" transform="translate(66.8 1010) rotate(-90)"><tspan class="cj" font-size="22.0">累计失效概率</tspan>(%)</text>
<text x="336.5" y="1295.5" font-size="24.0" text-anchor="start" textLength="188.5" lengthAdjust="spacingAndGlyphs"><tspan class="cj" font-size="22.6">击穿场强</tspan>/(kV/mm)</text>
<text x="337.5" y="1333.5" font-size="24.0" text-anchor="start" textLength="190.0" lengthAdjust="spacingAndGlyphs">(b) PP/RBBT/SEBS</text>
</g>
</svg>
</body>
</html>
